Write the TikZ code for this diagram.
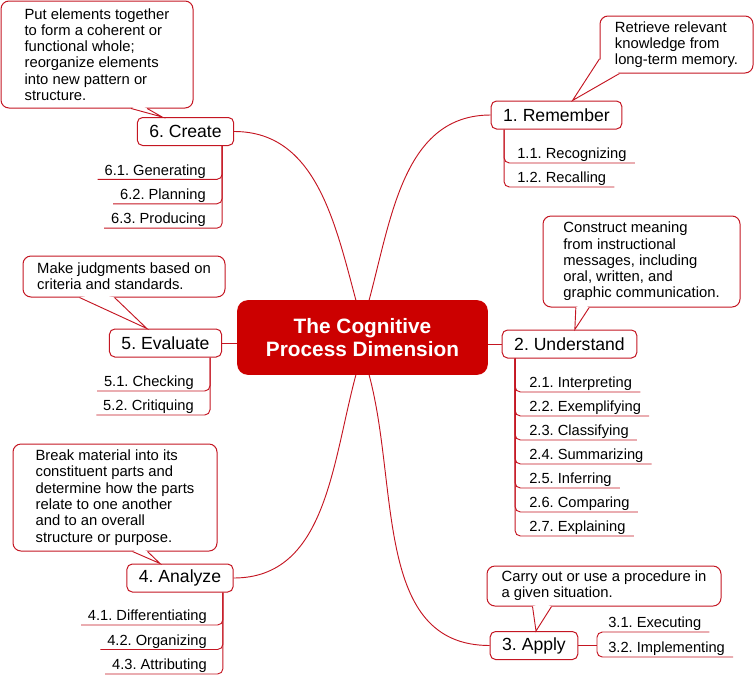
\documentclass[tikz,border=0pt]{standalone}
\usepackage{fontspec}
\setmainfont{Liberation Sans}
\frenchspacing

\definecolor{hubred}{RGB}{204,0,0}
\definecolor{linered}{RGB}{196,22,34}

\tikzset{
  hub/.style={fill=hubred, text=white, rounded corners=8pt, minimum width=188pt, minimum height=56pt, align=center, font=\fontsize{15.6}{17.3}\selectfont\bfseries},
  topic/.style={draw=linered, line width=0.75pt, fill=white, rounded corners=4pt, minimum height=21pt, inner xsep=9pt, inner ysep=0pt, font=\fontsize{13.2}{15}\selectfont},
  note/.style={draw=linered, line width=0.75pt, fill=white, rounded corners=6pt, align=left, font=\fontsize{11.1}{12.2}\selectfont},
  leaf/.style={inner sep=0pt, text depth=3pt, font=\fontsize{11}{13}\selectfont},
  link/.style={draw=linered, line width=0.7pt},
  branch/.style={draw=linered, line width=0.7pt, rounded corners=4pt},
  pointer/.style={draw=linered, line width=0.7pt, line join=miter}
}

% tail of a note: first side, tip, second side, point inside the note
\newcommand{\notetail}[4]{%
  \fill[white] #1 -- #2 -- #3 -- #4 -- cycle;
  \draw[pointer] #1 -- #2 -- #3;}

\begin{document}
\begin{tikzpicture}[x=0.75pt, y=0.75pt]
  \useasboundingbox (0,0) rectangle (755,-675);

  % Central topic
  \node[hub] (hub) at (362.5,-337.5) {The Cognitive\\Process Dimension};

  % Main topics
  \node[topic] (remember) at (556.5,-115) {1. Remember};
  \node[topic] (understand) at (569.5,-344) {2. Understand};
  \node[topic] (apply) at (534,-645.5) {3. Apply};
  \node[topic] (analyze) at (180,-578) {4. Analyze};
  \node[topic] (evaluate) at (165.5,-343) {5. Evaluate};
  \node[topic] (create) at (185.5,-131.5) {6. Create};

  % Links from the centre
  \draw[link] ([xshift=5pt]hub.north) to[out=75, in=180] (remember.west);
  \draw[link] (hub.east |- understand.west) -- (understand.west);
  \draw[link] ([xshift=5pt]hub.south) to[out=-75, in=180] (apply.west);
  \draw[link] ([xshift=-5pt]hub.south) to[out=-105, in=0] (analyze.east);
  \draw[link] (evaluate.east) -- (evaluate.east -| hub.west);
  \draw[link] ([xshift=-5pt]hub.north) to[out=105, in=0] (create.east);

  % Notes
  \node[note, minimum width=114.75pt, minimum height=42.75pt] (rnote) at (676.5,-44.5) {Retrieve relevant\\knowledge from\\long-term memory.};
  \notetail{([yshift=11pt]rnote.south west)}{([xshift=12pt]remember.north)}{([xshift=15pt]rnote.south west)}{([shift={(6pt,6pt)}]rnote.south west)}

  \node[note, minimum width=147.75pt, minimum height=68.25pt] (unote) at (641.5,-261.5) {Construct meaning\\from instructional\\messages, including\\oral, written, and\\graphic communication.};
  \notetail{([xshift=25pt]unote.south west)}{([xshift=4pt]understand.north)}{([xshift=35pt]unote.south west)}{([shift={(30pt,3pt)}]unote.south west)}

  \node[note, minimum width=175.5pt, minimum height=30pt] (apnote) at (604,-586) {Carry out or use a procedure in\\a given situation.};
  \notetail{([xshift=34.5pt]apnote.south west)}{([xshift=1.5pt]apply.north)}{([xshift=48.75pt]apnote.south west)}{([shift={(42pt,3pt)}]apnote.south west)}

  \node[note, minimum width=153pt, minimum height=80.25pt] (annote) at (115,-497.5) {Break material into its\\constituent parts and\\determine how the parts\\relate to one another\\and to an overall\\structure or purpose.};
  \notetail{([xshift=90pt]annote.south west)}{([xshift=-15pt]analyze.north)}{([xshift=101.25pt]annote.south west)}{([shift={(95.5pt,3pt)}]annote.south west)}

  \node[note, minimum width=151.5pt, minimum height=30.75pt] (enote) at (124,-276.5) {Make judgments based on\\criteria and standards.};
  \notetail{([xshift=42.75pt]enote.south west)}{([xshift=-14pt]evaluate.north)}{([xshift=69pt]enote.south west)}{([shift={(56pt,3pt)}]enote.south west)}

  \node[note, minimum width=144pt, minimum height=80.25pt] (cnote) at (97,-54.5) {Put elements together\\to form a coherent or\\functional whole;\\reorganize elements\\into new pattern or\\structure.};
  \notetail{([xshift=98pt]cnote.south west)}{([xshift=-17.5pt]create.north)}{([xshift=110pt]cnote.south west)}{([shift={(104pt,3pt)}]cnote.south west)}

  % 1. Remember
  \foreach \lbl [count=\i] in {1.1. Recognizing, 1.2. Recalling}{
    \node[leaf, anchor=south west] (r\i) at (517,-139-24*\i) {\lbl};
    \draw[branch] ([xshift=10pt]remember.south west) |- ([xshift=6pt]r\i.south east);
  }

  % 2. Understand
  \foreach \lbl [count=\i] in {2.1. Interpreting, 2.2. Exemplifying, 2.3. Classifying, 2.4. Summarizing, 2.5. Inferring, 2.6. Comparing, 2.7. Explaining}{
    \node[leaf, anchor=south west] (u\i) at (529,-368-24*\i) {\lbl};
    \draw[branch] ([xshift=10pt]understand.south west) |- ([xshift=6pt]u\i.south east);
  }

  % 3. Apply
  \coordinate (fork) at ([xshift=14pt]apply.east);
  \draw[link] (apply.east) -- (fork);
  \node[leaf, anchor=south west] (ap1) at (608,-632) {3.1. Executing};
  \node[leaf, anchor=south west] (ap2) at (608,-657) {3.2. Implementing};
  \draw[branch] (fork) |- ([xshift=6pt]ap1.south east);
  \draw[branch] (fork) |- ([xshift=6pt]ap2.south east);

  % 4. Analyze
  \foreach \lbl [count=\i] in {4.1. Differentiating, 4.2. Organizing, 4.3. Attributing}{
    \node[leaf, anchor=south east] (an\i) at (207,-600.5-24.5*\i) {\lbl};
    \draw[branch] ([xshift=-8pt]analyze.south east) |- ([xshift=-5pt]an\i.south west);
  }

  % 5. Evaluate
  \foreach \lbl [count=\i] in {5.1. Checking, 5.2. Critiquing}{
    \node[leaf, anchor=south east] (e\i) at (194,-367-24*\i) {\lbl};
    \draw[branch] ([xshift=-9pt]evaluate.south east) |- ([xshift=-5pt]e\i.south west);
  }

  % 6. Create
  \foreach \lbl [count=\i] in {6.1. Generating, 6.2. Planning, 6.3. Producing}{
    \node[leaf, anchor=south east] (c\i) at (206,-155-24.4*\i) {\lbl};
    \draw[branch] ([xshift=-9pt]create.south east) |- ([xshift=-5pt]c\i.south west);
  }
\end{tikzpicture}
\end{document}
